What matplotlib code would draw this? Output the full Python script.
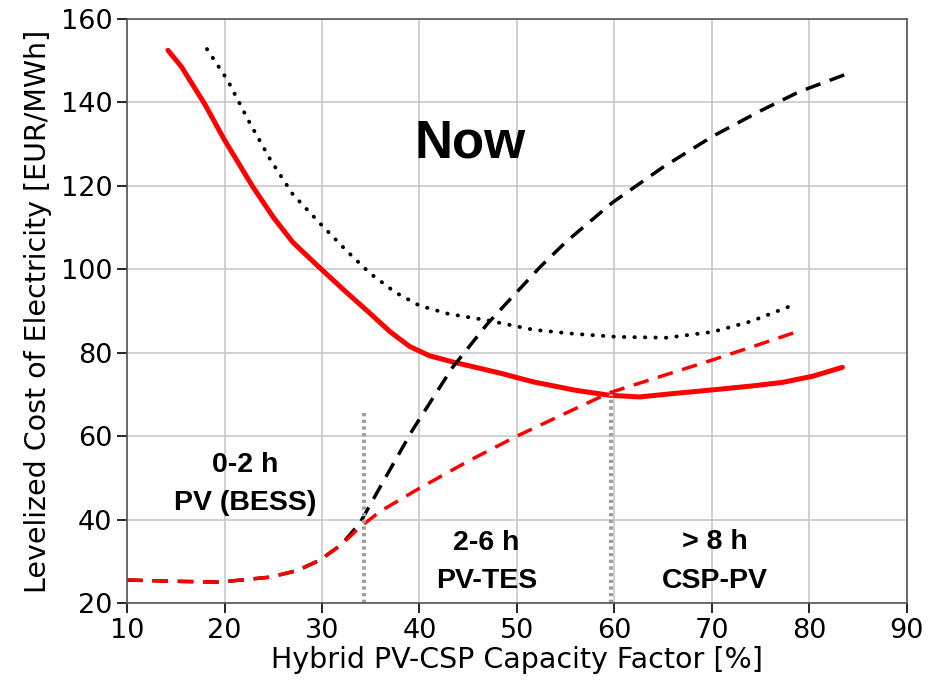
import numpy as np
import matplotlib
matplotlib.use('Agg')
import matplotlib.pyplot as plt

# red solid - hybrid optimum
red_x = [14.2, 15.6, 18.0, 20.0, 22.9, 25.0, 27.0, 29.8, 32.5, 34.9, 37.0, 39.0, 41.0, 43.4, 48.3, 51.7, 56.0, 59.5, 62.6, 66.0, 70.1, 74.0, 77.3, 80.4, 83.4]
red_y = [152.5, 148.5, 139.5, 131.0, 119.8, 112.5, 106.5, 100.3, 94.5, 89.5, 85.0, 81.5, 79.3, 77.8, 75.1, 73.0, 71.0, 69.8, 69.4, 70.2, 71.1, 72.0, 72.9, 74.4, 76.5]

# black dotted
dot_x = [18.2, 20.3, 22.5, 24.7, 27.0, 29.8, 32.5, 34.9, 37.5, 40.0, 43.0, 46.9, 51.7, 56.0, 60.3, 65.4, 70.1, 74.0, 78.3]
dot_y = [152.8, 145.4, 135.5, 126.3, 118.0, 111.0, 104.5, 99.1, 94.5, 91.3, 89.3, 87.8, 85.5, 84.5, 83.8, 83.6, 85.0, 87.5, 91.4]

# black dashed
bd_x = [10.0, 15.0, 19.5, 24.7, 27.5, 29.8, 32.0, 33.9, 36.5, 39.3, 43.4, 47.0, 52.4, 55.0, 59.8, 65.0, 70.1, 75.0, 79.0, 84.5]
bd_y = [25.5, 25.2, 25.0, 26.2, 27.8, 30.3, 34.0, 39.2, 50.0, 61.5, 76.5, 87.0, 100.6, 106.5, 116.0, 124.5, 131.9, 138.0, 142.6, 147.4]

# red dashed
rd_x = [10.0, 15.0, 19.5, 24.7, 27.5, 29.8, 32.0, 33.9, 36.0, 40.0, 45.0, 50.0, 55.0, 59.5, 65.0, 70.1, 74.0, 78.7]
rd_y = [25.5, 25.2, 25.0, 26.2, 27.8, 30.3, 34.0, 38.2, 42.0, 47.5, 54.0, 60.0, 65.5, 70.4, 74.5, 78.3, 81.3, 85.0]

sep_x = [34.3, 59.7]
sep_top = [66, 70]

# region labels: (x, baseline y, text)
labels = [(22.1, 51.4, '0-2 h'), (22.1, 42.3, 'PV (BESS)'),
          (46.9, 32.7, '2-6 h'), (46.9, 23.6, 'PV-TES'),
          (70.3, 33.0, '> 8 h'), (70.3, 23.7, 'CSP-PV')]

fig = plt.figure(figsize=(9.3, 6.87), dpi=100)
ax = fig.add_axes([0.1366, 0.1223, 0.8384, 0.85])

ax.plot(red_x, red_y, color='red', lw=3.6, solid_capstyle='round', solid_joinstyle='round')
ax.plot(dot_x, dot_y, color='black', lw=2.8, linestyle=(0, (0.1, 2.6)), dash_capstyle='round')
ax.plot(bd_x, bd_y, color='black', lw=2.5, linestyle=(0, (4.5, 2.8)))
ax.plot(rd_x, rd_y, color='red', lw=2.5, linestyle=(0, (4.5, 2.8)))

for x, top in zip(sep_x, sep_top):
    ax.plot([x, x], [20, top], color='#a0a0a0', lw=3, linestyle=(0, (0.8, 0.8)))

fam = ['Liberation Sans', 'DejaVu Sans']
for x, y, t in labels:
    ax.text(x, y, t, ha='center', va='baseline', fontsize=20.5, fontweight='bold', family=fam)
ax.text(45.2, 126.7, 'Now', ha='center', va='baseline', fontsize=38, fontweight='bold', family=fam)

ax.set_xlim(10, 90)
ax.set_ylim(20, 160)
ax.set_xticks(np.arange(10, 91, 10))
ax.set_yticks(np.arange(20, 161, 20))
ax.grid(True, color='#c8c8c8', lw=1.2)
ax.tick_params(labelsize=19.5, length=7, width=1.2)
for s in ax.spines.values():
    s.set_color('#555555')
    s.set_linewidth(1.2)
ax.set_xlabel('Hybrid PV-CSP Capacity Factor [%]', fontsize=20.5, labelpad=2)
ax.set_ylabel('Levelized Cost of Electricity [EUR/MWh]', fontsize=20.5, labelpad=6)

fig.savefig('out.png', dpi=100)
